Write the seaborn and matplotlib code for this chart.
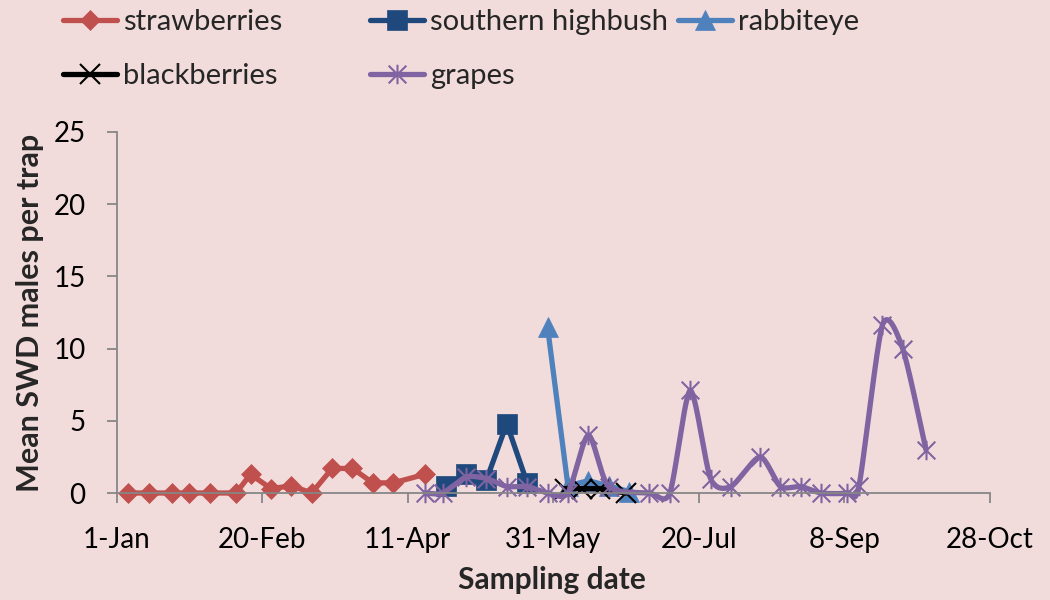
import numpy as np
import pandas as pd
import matplotlib
matplotlib.use("Agg")
import matplotlib.pyplot as plt
import matplotlib.dates as mdates
from matplotlib.path import Path
from matplotlib.lines import Line2D
import seaborn as sns

# ---------------- data ----------------
strawberry_dates = ["2013-01-05", "2013-01-12", "2013-01-20", "2013-01-26", "2013-02-02",
                    "2013-02-11", "2013-02-16", "2013-02-23", "2013-03-02", "2013-03-09",
                    "2013-03-16", "2013-03-23", "2013-03-30", "2013-04-06", "2013-04-17"]
strawberry_vals = [0, 0, 0, 0, 0, 0, 1.3, 0.3, 0.5, 0, 1.7, 1.7, 0.7, 0.7, 1.3]

highbush_dates = ["2013-04-24", "2013-05-01", "2013-05-08", "2013-05-15", "2013-05-22"]
highbush_vals = [0.5, 1.3, 0.9, 4.8, 0.7]

rabbiteye_dates = ["2013-05-29", "2013-06-05", "2013-06-12", "2013-06-19", "2013-06-26"]
rabbiteye_vals = [11.5, 0.5, 0.85, 0.5, 0.1]

blackberry_dates = ["2013-06-04", "2013-06-10", "2013-06-16", "2013-06-25"]
blackberry_vals = [0.3, 0.3, 0.3, 0.0]

grape_dates = ["2013-04-17", "2013-04-23", "2013-05-01", "2013-05-08", "2013-05-15",
               "2013-05-22", "2013-05-29", "2013-06-05", "2013-06-12", "2013-06-19",
               "2013-07-03", "2013-07-10", "2013-07-17", "2013-07-24", "2013-07-31",
               "2013-08-10", "2013-08-17", "2013-08-24", "2013-08-31", "2013-09-09",
               "2013-09-13", "2013-09-21", "2013-09-28", "2013-10-06"]
grape_vals = [0, 0, 1.1, 1.0, 0.45, 0.45, 0, 0, 4.0, 0.45,
              0, 0, 7.1, 1.0, 0.45, 2.5, 0.45, 0.45, 0, 0,
              0.5, 11.6, 10.0, 3.0]

tick_dates = ["2013-01-01", "2013-02-20", "2013-04-11", "2013-05-31",
              "2013-07-20", "2013-09-08", "2013-10-28"]
tick_labels = ["1-Jan", "20-Feb", "11-Apr", "31-May", "20-Jul", "8-Sep", "28-Oct"]
y_ticks = [0, 5, 10, 15, 20, 25]

# ---------------- style ----------------
sns.set_style("ticks")
plt.rcParams["font.family"] = ["Lato", "DejaVu Sans"]

BG = "#F2DCDB"
AXC = "#868686"
FS = 20

asterisk = Path([(-1, -1), (1, 1), (-1, 1), (1, -1), (0, -1.1), (0, 1.1)],
                [Path.MOVETO, Path.LINETO, Path.MOVETO, Path.LINETO, Path.MOVETO, Path.LINETO])

LW = 3.8
styles = {
    "strawberries": dict(color="#C0504D", marker="D", markersize=10.3,
                         markeredgecolor="#C0504D", markeredgewidth=0.5),
    "southern highbush": dict(color="#1F497D", marker="s", markersize=14.5,
                              markeredgecolor="#1F497D", markeredgewidth=0.5),
    "rabbiteye": dict(color="#4F81BD", marker="^", markersize=14.5,
                      markeredgecolor="#4F81BD", markeredgewidth=0.5),
    "blackberries": dict(color="black", marker="x", markersize=14,
                         markeredgecolor="black", markeredgewidth=1.5),
    "grapes": dict(color="#8064A2", marker=asterisk, markersize=14,
                   markeredgecolor="#8064A2", markerfacecolor="none", markeredgewidth=1.5),
}

fig = plt.figure(figsize=(10.5, 6), dpi=100, facecolor=BG)
L, R, T, B = 116.7, 990.0, 132.0, 493.0
ax = fig.add_axes([L / 1050, 1 - B / 600, (R - L) / 1050, (B - T) / 600])
ax.set_facecolor(BG)

series = [
    ("strawberries", strawberry_dates, strawberry_vals),
    ("southern highbush", highbush_dates, highbush_vals),
    ("rabbiteye", rabbiteye_dates, rabbiteye_vals),
    ("blackberries", blackberry_dates, blackberry_vals),
]
for name, d, v in series:
    sns.lineplot(x=pd.to_datetime(d), y=v, ax=ax, linewidth=LW, clip_on=False,
                 solid_joinstyle="round", solid_capstyle="round", **styles[name])

# grapes: Excel-like smoothed line (cardinal Bezier spline in screen proportions)
def smooth_curve(xs, ys, sx, sy, k=0.75, n=40):
    P = np.column_stack([np.asarray(xs, float) * sx, np.asarray(ys, float) * sy])
    E = np.vstack([P[0], P, P[-1]])
    t = np.linspace(0, 1, n)[:, None]
    segs = []
    for i in range(len(P) - 1):
        p0, p1, p2, p3 = E[i], E[i + 1], E[i + 2], E[i + 3]
        c1 = p1 + k * (p2 - p0) / 6.0
        c2 = p2 - k * (p3 - p1) / 6.0
        seg = (1 - t) ** 3 * p1 + 3 * (1 - t) ** 2 * t * c1 + 3 * (1 - t) * t ** 2 * c2 + t ** 3 * p2
        segs.append(seg if i == 0 else seg[1:])
    S = np.vstack(segs)
    return S[:, 0] / sx, S[:, 1] / sy

gx_num = mdates.date2num(pd.to_datetime(grape_dates).to_pydatetime())
px_per_day = (R - L) / 300.0
px_per_unit = (B - T) / 25.0
sxs, sys_ = smooth_curve(gx_num, grape_vals, px_per_day, px_per_unit)
ax.plot(sxs, sys_, color=styles["grapes"]["color"], linewidth=LW, clip_on=False,
        solid_capstyle="round", solid_joinstyle="round")
sns.lineplot(x=pd.to_datetime(grape_dates), y=grape_vals, ax=ax, linestyle="none",
             clip_on=False, **styles["grapes"])

if ax.get_legend() is not None:
    ax.get_legend().remove()

# ---------------- axes ----------------
ax.set_xlim(mdates.date2num(pd.Timestamp("2013-01-01")), mdates.date2num(pd.Timestamp("2013-10-28")))
ax.set_xticks(mdates.date2num(pd.to_datetime(tick_dates).to_pydatetime()), labels=tick_labels)
ax.set_ylim(0, 25)
ax.set_yticks(y_ticks)
ax.grid(False)
for s in ("top", "right"):
    ax.spines[s].set_visible(False)
for s in ("left", "bottom"):
    ax.spines[s].set_color(AXC)
    ax.spines[s].set_linewidth(1.3)
ax.tick_params(axis="both", direction="out", length=7.5, width=1.3, color=AXC,
               labelsize=FS, labelcolor="black")
ax.tick_params(axis="y", pad=15)
ax.tick_params(axis="x", pad=17)

ax.set_ylabel("Mean SWD males per trap", fontsize=22, fontweight="bold", va="center")
ax.yaxis.set_label_coords((30 - L) / (R - L), 0.5)
ax.set_xlabel("Sampling date", fontsize=21.5, fontweight="bold", va="center")
ax.xaxis.set_label_coords((552 - L) / (R - L), (B - 580) / (B - T))

# ---------------- legend (Excel-like placement) ----------------
legend_pos = [("strawberries", 63, 22), ("southern highbush", 370, 22), ("rabbiteye", 678, 22),
              ("blackberries", 63, 76), ("grapes", 370, 76)]
for name, x, y in legend_pos:
    h = Line2D([], [], linewidth=LW, solid_capstyle="round", **styles[name])
    fig.legend(handles=[h], labels=[name], loc="center left",
               bbox_to_anchor=(x / 1050, 1 - y / 600), bbox_transform=fig.transFigure,
               frameon=False, fontsize=21, handlelength=1.85, handletextpad=0.2,
               borderpad=0, borderaxespad=0, numpoints=1)

fig.savefig("out.png", dpi=100, facecolor=BG)
